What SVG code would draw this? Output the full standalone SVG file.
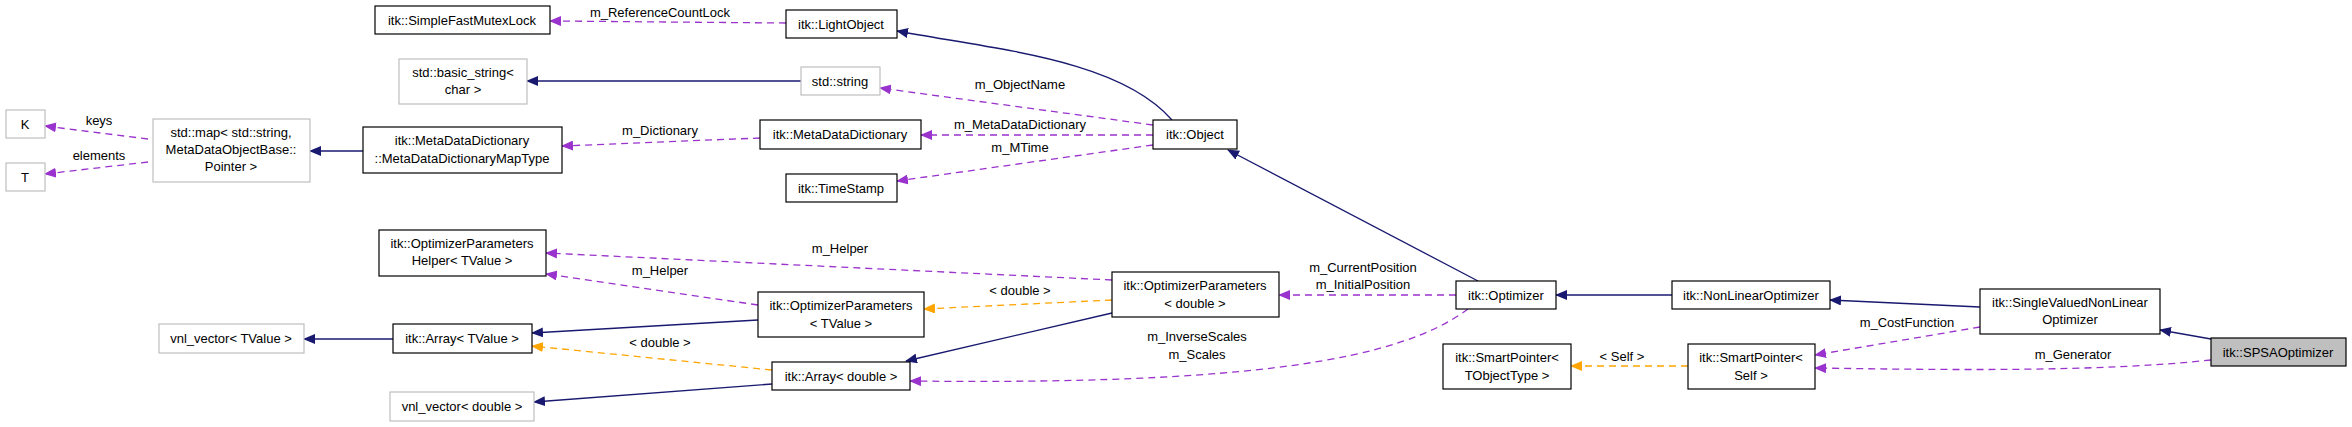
<svg xmlns="http://www.w3.org/2000/svg" width="2352" height="427" viewBox="0 0 2352 427">
<style>
.n rect{fill:#fff;stroke:#000;stroke-width:1.2}
.g rect{fill:#fff;stroke:#bfbfbf;stroke-width:1.2}
text{font-family:"Liberation Sans",Arial,sans-serif;font-size:13px;fill:#000;text-anchor:middle}
.e{fill:none;stroke-width:1.3}
.s{stroke:#191970}
.p{stroke:#9a32cd;stroke-dasharray:7,5}
.o{stroke:#ffa500;stroke-dasharray:7,5}
</style>
<defs>
<marker id="an" markerWidth="12" markerHeight="10" refX="11" refY="5" orient="auto" markerUnits="userSpaceOnUse"><path d="M0,0 L12,5 L0,10 Z" fill="#191970"/></marker>
<marker id="ap" markerWidth="12" markerHeight="10" refX="11" refY="5" orient="auto" markerUnits="userSpaceOnUse"><path d="M0,0 L12,5 L0,10 Z" fill="#9a32cd"/></marker>
<marker id="ao" markerWidth="12" markerHeight="10" refX="11" refY="5" orient="auto" markerUnits="userSpaceOnUse"><path d="M0,0 L12,5 L0,10 Z" fill="#ffa500"/></marker>
</defs>
<rect width="2352" height="427" fill="#fff"/>
<g id="edges">
<path class="e p" marker-end="url(#ap)" d="M786,23 L550,21"/>
<text x="660" y="17">m_ReferenceCountLock</text>
<path class="e s" marker-end="url(#an)" d="M1172,120 C1120,60 1000,50 897,31"/>
<path class="e s" marker-end="url(#an)" d="M801,81 L527,81"/>
<path class="e p" marker-end="url(#ap)" d="M1153,125 L880,88"/>
<text x="1020" y="89">m_ObjectName</text>
<path class="e p" marker-end="url(#ap)" d="M1153,135 L921,135"/>
<text x="1020" y="129">m_MetaDataDictionary</text>
<path class="e p" marker-end="url(#ap)" d="M1153,145 L897,181"/>
<text x="1020" y="152">m_MTime</text>
<path class="e p" marker-end="url(#ap)" d="M760,138 L562,146"/>
<text x="660" y="135">m_Dictionary</text>
<path class="e s" marker-end="url(#an)" d="M363,151 L310,151"/>
<path class="e p" marker-end="url(#ap)" d="M148,139 L45,126"/>
<text x="99" y="125">keys</text>
<path class="e p" marker-end="url(#ap)" d="M148,162 L45,174"/>
<text x="99" y="160">elements</text>
<path class="e p" marker-end="url(#ap)" d="M1112,280 L546,253"/>
<text x="840" y="253">m_Helper</text>
<path class="e p" marker-end="url(#ap)" d="M758,305 L546,274"/>
<text x="660" y="275">m_Helper</text>
<path class="e o" marker-end="url(#ao)" d="M1112,300 L924,309"/>
<text x="1020" y="295">&lt; double &gt;</text>
<path class="e s" marker-end="url(#an)" d="M758,320 L532,333"/>
<path class="e s" marker-end="url(#an)" d="M393,339 L304,339"/>
<path class="e o" marker-end="url(#ao)" d="M772,370 L532,346"/>
<text x="660" y="347">&lt; double &gt;</text>
<path class="e s" marker-end="url(#an)" d="M772,384 L534,402"/>
<path class="e s" marker-end="url(#an)" d="M1112,313 L906,361"/>
<path class="e p" marker-end="url(#ap)" d="M1456,295 L1279,295"/>
<text x="1363" y="272">m_CurrentPosition</text>
<text x="1363" y="289">m_InitialPosition</text>
<path class="e p" marker-end="url(#ap)" d="M1468,309 C1400,360 1250,385 910,381"/>
<text x="1197" y="341">m_InverseScales</text>
<text x="1197" y="359">m_Scales</text>
<path class="e s" marker-end="url(#an)" d="M1478,281 L1228,150"/>
<path class="e s" marker-end="url(#an)" d="M1672,295 L1556,295"/>
<path class="e s" marker-end="url(#an)" d="M1980,307 L1830,300"/>
<path class="e s" marker-end="url(#an)" d="M2211,339 L2160,330"/>
<path class="e p" marker-end="url(#ap)" d="M1980,327 L1815,355"/>
<text x="1907" y="327">m_CostFunction</text>
<path class="e p" marker-end="url(#ap)" d="M2211,360 C2100,372 1950,370 1815,368"/>
<text x="2073" y="359">m_Generator</text>
<path class="e o" marker-end="url(#ao)" d="M1688,366 L1571,366"/>
<text x="1622" y="361">&lt; Self &gt;</text>
</g>
<g id="n_sfml" class="n"><rect x="375" y="6" width="175" height="28"/><text x="462" y="25">itk::SimpleFastMutexLock</text></g>
<g id="n_light" class="n"><rect x="786" y="10" width="111" height="28"/><text x="841" y="29">itk::LightObject</text></g>
<g id="n_bstr" class="g"><rect x="399" y="59" width="128" height="45"/><text x="463" y="77">std::basic_string&lt;</text><text x="463" y="94">char &gt;</text></g>
<g id="n_str" class="g"><rect x="801" y="67" width="79" height="28"/><text x="840" y="86">std::string</text></g>
<g id="n_k" class="g"><rect x="6" y="110" width="39" height="28"/><text x="25" y="129">K</text></g>
<g id="n_t" class="g"><rect x="6" y="163" width="39" height="28"/><text x="25" y="182">T</text></g>
<g id="n_map" class="g"><rect x="153" y="119" width="157" height="63"/><text x="231" y="137">std::map&lt; std::string,</text><text x="231" y="154">MetaDataObjectBase::</text><text x="231" y="171">Pointer &gt;</text></g>
<g id="n_maptype" class="n"><rect x="363" y="127" width="199" height="46"/><text x="462" y="145">itk::MetaDataDictionary</text><text x="462" y="163">::MetaDataDictionaryMapType</text></g>
<g id="n_mdd" class="n"><rect x="760" y="120" width="161" height="29"/><text x="840" y="139">itk::MetaDataDictionary</text></g>
<g id="n_ts" class="n"><rect x="786" y="174" width="111" height="28"/><text x="841" y="193">itk::TimeStamp</text></g>
<g id="n_ophelper" class="n"><rect x="379" y="230" width="167" height="46"/><text x="462" y="248">itk::OptimizerParameters</text><text x="462" y="265">Helper&lt; TValue &gt;</text></g>
<g id="n_optv" class="n"><rect x="758" y="292" width="166" height="45"/><text x="841" y="310">itk::OptimizerParameters</text><text x="841" y="328">&lt; TValue &gt;</text></g>
<g id="n_vnlt" class="g"><rect x="159" y="324" width="145" height="29"/><text x="231" y="343">vnl_vector&lt; TValue &gt;</text></g>
<g id="n_arrt" class="n"><rect x="393" y="324" width="139" height="29"/><text x="462" y="343">itk::Array&lt; TValue &gt;</text></g>
<g id="n_arrd" class="n"><rect x="772" y="362" width="138" height="28"/><text x="841" y="381">itk::Array&lt; double &gt;</text></g>
<g id="n_vnld" class="g"><rect x="390" y="392" width="144" height="29"/><text x="462" y="411">vnl_vector&lt; double &gt;</text></g>
<g id="n_obj" class="n"><rect x="1153" y="120" width="84" height="29"/><text x="1195" y="139">itk::Object</text></g>
<g id="n_opd" class="n"><rect x="1112" y="272" width="167" height="45"/><text x="1195" y="290">itk::OptimizerParameters</text><text x="1195" y="308">&lt; double &gt;</text></g>
<g id="n_opt" class="n"><rect x="1456" y="281" width="100" height="28"/><text x="1506" y="300">itk::Optimizer</text></g>
<g id="n_nlo" class="n"><rect x="1672" y="281" width="158" height="28"/><text x="1751" y="300">itk::NonLinearOptimizer</text></g>
<g id="n_svnlo" class="n"><rect x="1980" y="289" width="180" height="45"/><text x="2070" y="307">itk::SingleValuedNonLinear</text><text x="2070" y="324">Optimizer</text></g>
<g id="n_spsa"><rect x="2211" y="338" width="135" height="28" fill="#bfbfbf" stroke="#000" stroke-width="1.2"/><text x="2278" y="357">itk::SPSAOptimizer</text></g>
<g id="n_spt" class="n"><rect x="1443" y="344" width="128" height="45"/><text x="1507" y="362">itk::SmartPointer&lt;</text><text x="1507" y="380">TObjectType &gt;</text></g>
<g id="n_sps" class="n"><rect x="1688" y="344" width="127" height="45"/><text x="1751" y="362">itk::SmartPointer&lt;</text><text x="1751" y="380">Self &gt;</text></g>
</svg>
